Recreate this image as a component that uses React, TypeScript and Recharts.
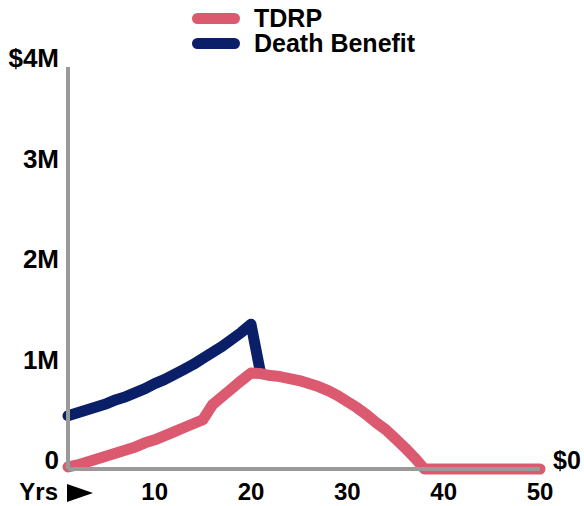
import React from 'react';
import { LineChart, Line, XAxis, YAxis, Legend, ReferenceDot } from 'recharts';

// Policy years along the horizontal axis
const years = [
  1, 2, 3, 4, 5, 6, 7, 8, 9, 10,
  11, 12, 13, 14, 15, 16, 17, 18, 19, 20,
  21, 22, 23, 24, 25, 26, 27, 28, 29, 30,
  31, 32, 33, 34, 35, 36, 37, 38, 39, 40,
  41, 42, 43, 44, 45, 46, 47, 48, 49, 50,
];

// Tax-deferred retirement plan balance, $M
const tdrp = [
  0.02, 0.04, 0.07, 0.1, 0.13, 0.16, 0.19, 0.22, 0.26, 0.29,
  0.33, 0.37, 0.41, 0.45, 0.49, 0.64, 0.72, 0.8, 0.88, 0.955,
  0.95, 0.93, 0.92, 0.9, 0.88, 0.85, 0.82, 0.78, 0.73, 0.67,
  0.61, 0.54, 0.46, 0.39, 0.3, 0.21, 0.11, 0, 0, 0,
  0, 0, 0, 0, 0, 0, 0, 0, 0, 0,
];

// Death benefit, $M (ends once it meets the plan balance)
const deathBenefit = [
  0.53, 0.56, 0.59, 0.62, 0.65, 0.69, 0.72, 0.76, 0.8, 0.85,
  0.89, 0.94, 0.99, 1.04, 1.1, 1.16, 1.22, 1.29, 1.36, 1.44,
  0.95,
];

const xTicks = [1, 10, 20, 30, 40, 50];
const yTicks = [0, 1, 2, 3, 4];
const endLabel = '$0';

const PINK = '#DC5A6F';
const NAVY = '#0B1F68';
const AXIS_GRAY = '#9A9A9A';
const FONT = '"Liberation Sans", Arial, Helvetica, sans-serif';

const data = years.map((year, i) => ({
  year,
  tdrp: tdrp[i],
  death: i < deathBenefit.length ? deathBenefit[i] : null,
}));

const yLabel = (v: number) => (v === 4 ? '$4M' : v === 0 ? '0' : `${v}M`);

const LeftTick = (props: any) => {
  const { x, y, payload } = props;
  return (
    <text x={x} y={y} textAnchor="end" fontFamily={FONT} fontWeight="bold" fontSize={26} fill="#000">
      {yLabel(payload.value)}
    </text>
  );
};

const BottomTick = (props: any) => {
  const { x, y, payload } = props;
  if (payload.value === 1) {
    return (
      <g>
        <text x={x - 10} y={y + 31} textAnchor="end" fontFamily={FONT} fontWeight="bold" fontSize={24} fill="#000">
          Yrs
        </text>
        <polygon points={`${x - 1},${y + 15} ${x - 1},${y + 33} ${x + 25},${y + 24}`} fill="#000" />
      </g>
    );
  }
  return (
    <text x={x} y={y + 31} textAnchor="middle" fontFamily={FONT} fontWeight="bold" fontSize={24} fill="#000">
      {payload.value}
    </text>
  );
};

// "$0" at the right end of the zero line
const EndLabel = (props: any) => {
  const { viewBox } = props;
  const x = viewBox.x + (viewBox.width || 0) / 2 + 13;
  const y = viewBox.y + (viewBox.height || 0) / 2;
  return (
    <text x={x} y={y} textAnchor="start" fontFamily={FONT} fontWeight="bold" fontSize={25} fill="#000">
      {endLabel}
    </text>
  );
};

// Legend rows: plan balance first, then death benefit
const LegendContent = (props: any) => {
  const entries = [...(props.payload || [])].reverse();
  return (
    <div style={{ fontFamily: FONT, fontWeight: 'bold', fontSize: 25, color: '#000' }}>
      {entries.map((entry: any) => (
        <div key={entry.value} style={{ display: 'flex', alignItems: 'center', height: 25, lineHeight: '25px' }}>
          <span
            style={{
              display: 'inline-block',
              width: 48,
              height: 11,
              borderRadius: 6,
              background: entry.color,
              marginRight: 14,
            }}
          />
          <span>{entry.value}</span>
        </div>
      ))}
    </div>
  );
};

export default function App() {
  return (
    <div style={{ position: 'absolute', left: 0, top: 0, background: '#fff' }}>
      <LineChart width={584} height={506} data={data} margin={{ top: 67, right: 44, bottom: 0, left: 0 }}>
        <XAxis
          dataKey="year"
          type="number"
          domain={[1, 50]}
          ticks={xTicks}
          tick={<BottomTick />}
          tickLine={false}
          tickSize={0}
          tickMargin={0}
          height={37}
          axisLine={{ stroke: AXIS_GRAY, strokeWidth: 4 }}
        />
        <YAxis
          domain={[0, 4]}
          ticks={yTicks}
          tick={<LeftTick />}
          tickLine={false}
          tickSize={0}
          tickMargin={9}
          width={68}
          axisLine={{ stroke: AXIS_GRAY, strokeWidth: 4 }}
        />
        <Legend
          layout="vertical"
          align="center"
          verticalAlign="middle"
          content={<LegendContent />}
          wrapperStyle={{ top: 6, left: 192, width: 280 }}
        />
        <Line
          type="linear"
          dataKey="death"
          name="Death Benefit"
          stroke={NAVY}
          strokeWidth={11}
          strokeLinecap="round"
          strokeLinejoin="round"
          dot={false}
          activeDot={false}
          connectNulls={false}
          isAnimationActive={false}
        />
        <Line
          type="linear"
          dataKey="tdrp"
          name="TDRP"
          stroke={PINK}
          strokeWidth={11}
          strokeLinecap="round"
          strokeLinejoin="round"
          dot={false}
          activeDot={false}
          isAnimationActive={false}
        />
        <ReferenceDot
          x={50}
          y={0}
          r={0}
          fill="none"
          stroke="none"
          ifOverflow="visible"
          label={<EndLabel />}
        />
      </LineChart>
    </div>
  );
}
